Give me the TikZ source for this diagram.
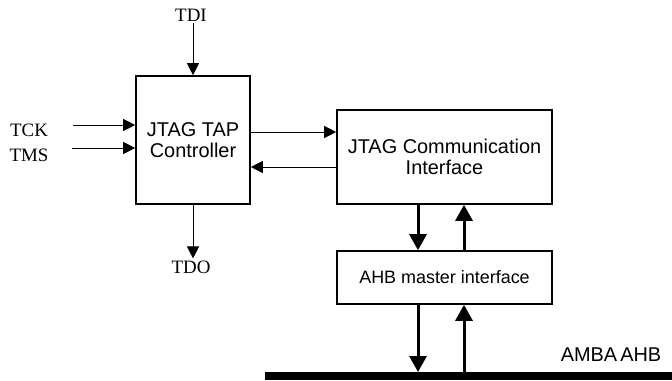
\documentclass[tikz,border=0pt]{standalone}
\usepackage{fontspec}
\setmainfont{Liberation Serif}
\setsansfont{Liberation Sans}
\usetikzlibrary{arrows.meta, positioning}

\begin{document}
\begin{tikzpicture}[x=1bp,y=-1bp,
    block/.style={draw,line width=1.6bp,minimum width=#1,inner sep=0pt,
      font=\sffamily\fontsize{20}{21}\selectfont,align=center},
    pin/.style={font=\fontsize{19}{20}\selectfont,inner sep=2bp},
    sig/.style={line width=0.9bp,-{Triangle[length=12bp,width=12bp]}},
    bus/.style={line width=3bp,-{Triangle[length=16bp,width=17bp]}}]
  \useasboundingbox (0,0) rectangle (672,380);
  % blocks
  \node[block=114bp,minimum height=128bp] (tap) at (193,140) {JTAG TAP\\Controller};
  \node[block=215bp,minimum height=94bp] (comm) at (444.5,157) {JTAG Communication\\Interface};
  \node[block=215bp,minimum height=53bp,font=\sffamily\fontsize{18}{19}\selectfont] (ahb) at (444.5,277.5) {AHB master interface};
  % pins
  \node[pin] (tdi) at (191,15) {TDI};
  \node[pin] (tck) at (29,130) {TCK};
  \node[pin] (tms) at (29,155) {TMS};
  \node[pin] (tdo) at (191,267) {TDO};
  \node[font=\sffamily\fontsize{20}{21}\selectfont] (amba) at (611,355) {AMBA\hspace{-2.5bp} AHB};
  % bus
  \coordinate (busl) at (265,376);
  \coordinate (busr) at (672,376);
  \draw[line width=8bp] (busl) -- (busr);
  \coordinate (tck0) at (73,125);
  \coordinate (tms0) at (72,148);
  \coordinate (dn) at (418,372);
  \coordinate (up) at (464,372);
  % connectors
  \draw[sig] (tdi.south -| tap.north) -- (tap.north);
  \draw[sig] (tck0) -- (tap.west |- tck0);
  \draw[sig] (tms0) -- (tap.west |- tms0);
  \draw[sig] (tap.south) -- (tdo.north -| tap.south);
  \draw[sig] (tap.east |- 0,132) -- (comm.west |- 0,132);
  \draw[sig] (comm.west |- 0,167) -- (tap.east |- 0,167);
  \draw[bus] (comm.south -| dn) -- (ahb.north -| dn);
  \draw[bus] (ahb.north -| up) -- (comm.south -| up);
  \draw[bus] (ahb.south -| dn) -- (dn);
  \draw[bus] (up) -- (ahb.south -| up);
\end{tikzpicture}
\end{document}
